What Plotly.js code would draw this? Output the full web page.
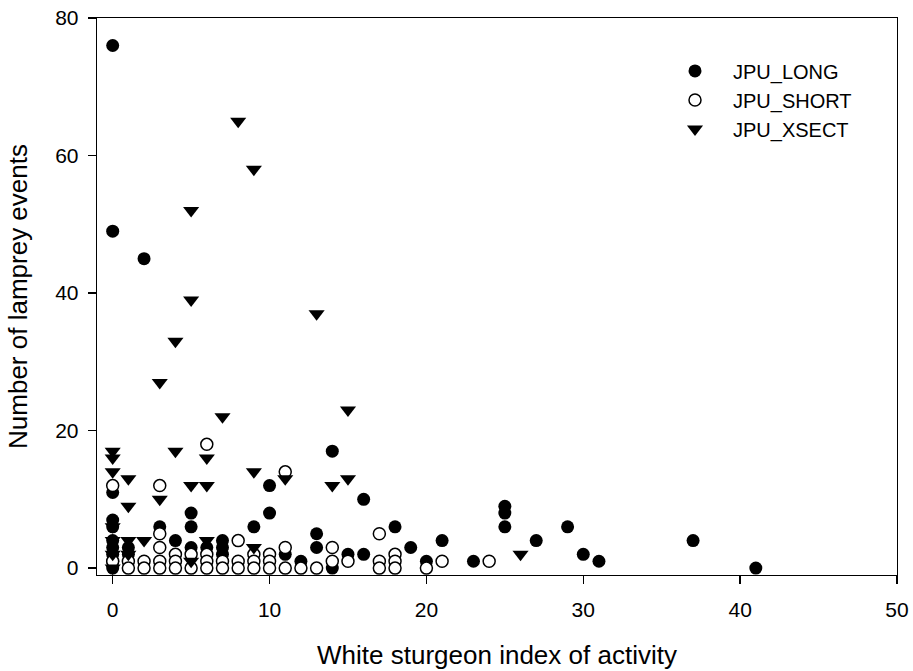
<!DOCTYPE html>
<html>
<head>
<meta charset="utf-8">
<script src="https://cdn.plot.ly/plotly-3.0.1.min.js"></script>
<style>
  html, body { margin: 0; padding: 0; background: #ffffff; }
  #chart { width: 913px; height: 671px; }
</style>
</head>
<body>
<div id="chart"></div>
<script>
// Lamprey events against white sturgeon activity, three JPU survey types.
const seriesNames = ['JPU_LONG', 'JPU_SHORT', 'JPU_XSECT'];

const longX = [0, 0, 0, 0, 0, 0, 0, 0, 0, 0,
               1, 1, 2, 3, 4, 5, 5, 5, 6, 7, 7, 7,
               9, 10, 10, 11, 12, 13, 13, 14, 14, 15, 16, 16,
               18, 19, 20, 21, 23, 25, 25, 25, 27, 29, 30, 31, 37, 41];
const longY = [76, 49, 11, 7, 6, 4, 3, 2, 1, 0,
               3, 2, 45, 6, 4, 8, 6, 3, 3, 4, 3, 2,
               6, 12, 8, 2, 1, 5, 3, 17, 0, 2, 10, 2,
               6, 3, 1, 4, 1, 9, 8, 6, 4, 6, 2, 1, 4, 0];

const shortX = [0, 0, 1, 1, 2, 2, 3, 3, 3, 3, 3, 4, 4, 4, 5, 5,
                6, 6, 6, 6, 7, 7, 8, 8, 8, 9, 9, 9, 10, 10, 10,
                11, 11, 11, 12, 13, 14, 14, 15, 17, 17, 17, 18, 18, 18,
                20, 21, 24];
const shortY = [12, 1, 1, 0, 1, 0, 12, 5, 3, 1, 0, 2, 1, 0, 2, 0,
                18, 2, 1, 0, 1, 0, 4, 1, 0, 2, 1, 0, 2, 1, 0,
                14, 3, 0, 0, 0, 3, 1, 1, 5, 1, 0, 2, 1, 0,
                0, 1, 1];

const xsectX = [0, 0, 0, 0, 0, 0, 0, 1, 1, 1, 1, 2, 3, 3, 4, 4,
                5, 5, 5, 5, 6, 6, 6, 7, 8, 9, 9, 9, 11, 13, 14, 15, 15, 26];
const xsectY = [17, 16, 14, 6, 4, 2, 0, 13, 9, 4, 2, 4, 27, 10, 33, 17,
                52, 39, 12, 1, 16, 12, 4, 22, 65, 58, 14, 3, 13, 37, 12, 23, 13, 2];

const xTicks = [0, 10, 20, 30, 40, 50];
const yTicks = [0, 20, 40, 60, 80];

const FONT = 'Liberation Sans, Arial, sans-serif';

const traces = [
  {
    x: longX, y: longY, name: seriesNames[0],
    type: 'scatter', mode: 'markers',
    marker: { symbol: 'circle', size: 13, color: '#000000', line: { width: 0 } }
  },
  {
    x: shortX, y: shortY, name: seriesNames[1],
    type: 'scatter', mode: 'markers',
    marker: { symbol: 'circle', size: 12, color: '#ffffff', line: { width: 1.5, color: '#000000' } }
  },
  {
    x: xsectX, y: xsectY, name: seriesNames[2],
    type: 'scatter', mode: 'markers',
    marker: { symbol: 'triangle-down', size: 14, color: '#000000', line: { width: 0 } }
  }
];

const axisCommon = {
  showgrid: false,
  zeroline: false,
  showline: true,
  linecolor: '#000000',
  linewidth: 1.3,
  mirror: true,
  ticks: 'outside',
  ticklen: 8,
  tickwidth: 1.3,
  tickcolor: '#000000',
  tickfont: { family: FONT, size: 21, color: '#000000' }
};

const layout = {
  width: 913,
  height: 671,
  margin: { l: 97, r: 16, t: 18, b: 96 },
  paper_bgcolor: '#ffffff',
  plot_bgcolor: '#ffffff',
  showlegend: true,
  font: { family: FONT, color: '#000000' },
  xaxis: Object.assign({}, axisCommon, {
    range: [-1, 50],
    tickvals: xTicks,
    ticktext: xTicks.map(String),
    ticklabelstandoff: 7,
    title: { text: 'White sturgeon index of activity', font: { family: FONT, size: 26, color: '#000000' }, standoff: 26 }
  }),
  yaxis: Object.assign({}, axisCommon, {
    range: [-1, 80],
    tickvals: yTicks,
    ticktext: yTicks.map(String),
    ticklabelstandoff: 5,
    title: { text: 'Number of lamprey events', font: { family: FONT, size: 26, color: '#000000' }, standoff: 20 }
  }),
  legend: {
    x: 0.70, y: 0.94, xanchor: 'left', yanchor: 'top',
    bgcolor: 'rgba(0,0,0,0)',
    borderwidth: 0,
    itemwidth: 66,
    font: { family: FONT, size: 20, color: '#000000' }
  }
};

Plotly.newPlot('chart', traces, layout, { displayModeBar: false, staticPlot: true });
</script>
</body>
</html>
